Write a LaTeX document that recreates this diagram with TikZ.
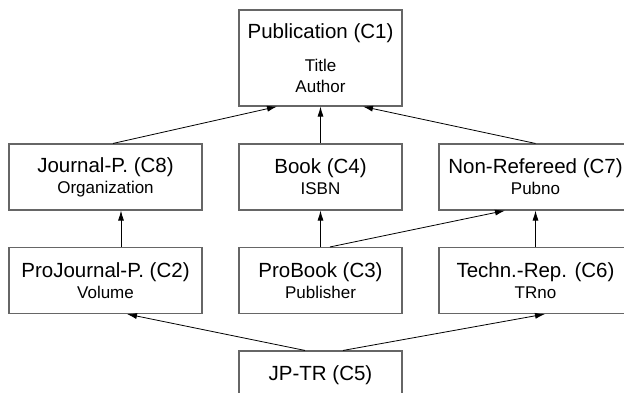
\documentclass[tikz,border=0pt]{standalone}
\usepackage{fontspec}
\setmainfont{Liberation Sans}
\usetikzlibrary{positioning}
\usetikzlibrary{arrows.meta}

\newcommand{\cname}[1]{{\fontsize{20.5}{21}\selectfont #1}}

\begin{document}
\begin{tikzpicture}
          [
          x=1pt, y=-1pt,
          Class/.style={rectangle, draw=black!60, line width=1.1pt, inner sep=0pt, align=center, font=\fontsize{17}{21}\selectfont, minimum height=66pt},
          Wide/.style={Class, minimum width=193pt},
          Narrow/.style={Class, minimum width=163pt},
          Isa/.style={-{Latex[length=10pt,width=6pt]}, draw, line width=0.8pt},
          ]
          \useasboundingbox (0,0) rectangle (624,392);
          \clip (0,0) rectangle (624,392);
          % Nodes
          \node[Narrow, minimum height=96pt] (C1) at (320.5,58) {\cname{Publication (C1)}\\[12pt]Title\\Author};
          \node[Wide] (C8) at (105.5,177) {\cname{Journal-P. (C8)}\\Organization};
          \node[Narrow] (C4) at (320.5,177) {\cname{Book (C4)}\\ISBN};
          \node[Wide] (C7) at (535.5,177) {\cname{Non-Refereed (C7)}\\Pubno};
          \node[Wide] (C2) at (105.5,280.5) {\cname{ProJournal-P. (C2)}\\Volume};
          \node[Narrow] (C3) at (320.5,280.5) {\cname{ProBook (C3)}\\Publisher};
          \node[Wide] (C6) at (535.5,280.5) {\cname{Techn.-Rep. (C6)}\\TRno};
          \node[Narrow] (C5) at (320.5,384) {\cname{JP-TR (C5)}\\\mbox{}};

          % Lines
          \path [Isa] ([xshift=7.5pt]C8.north) -- ([xshift=-43.5pt]C1.south);
          \path [Isa] (C4.north) -- (C1.south);
          \path [Isa] (C7.north) -- ([xshift=42.5pt]C1.south);
          \path [Isa] ([xshift=15.5pt]C2.north) -- ([xshift=15.5pt]C8.south);
          \path [Isa] (C3.north) -- (C4.south);
          \path [Isa] ([xshift=9.5pt]C3.north) -- ([xshift=-30.5pt]C7.south);
          \path [Isa] (C6.north) -- (C7.south);
          \path [Isa] ([xshift=-15.5pt]C5.north) -- ([xshift=21.5pt]C2.south);
          \path [Isa] ([xshift=22.5pt]C5.north) -- ([xshift=9.5pt]C6.south);

        \end{tikzpicture}
\end{document}
